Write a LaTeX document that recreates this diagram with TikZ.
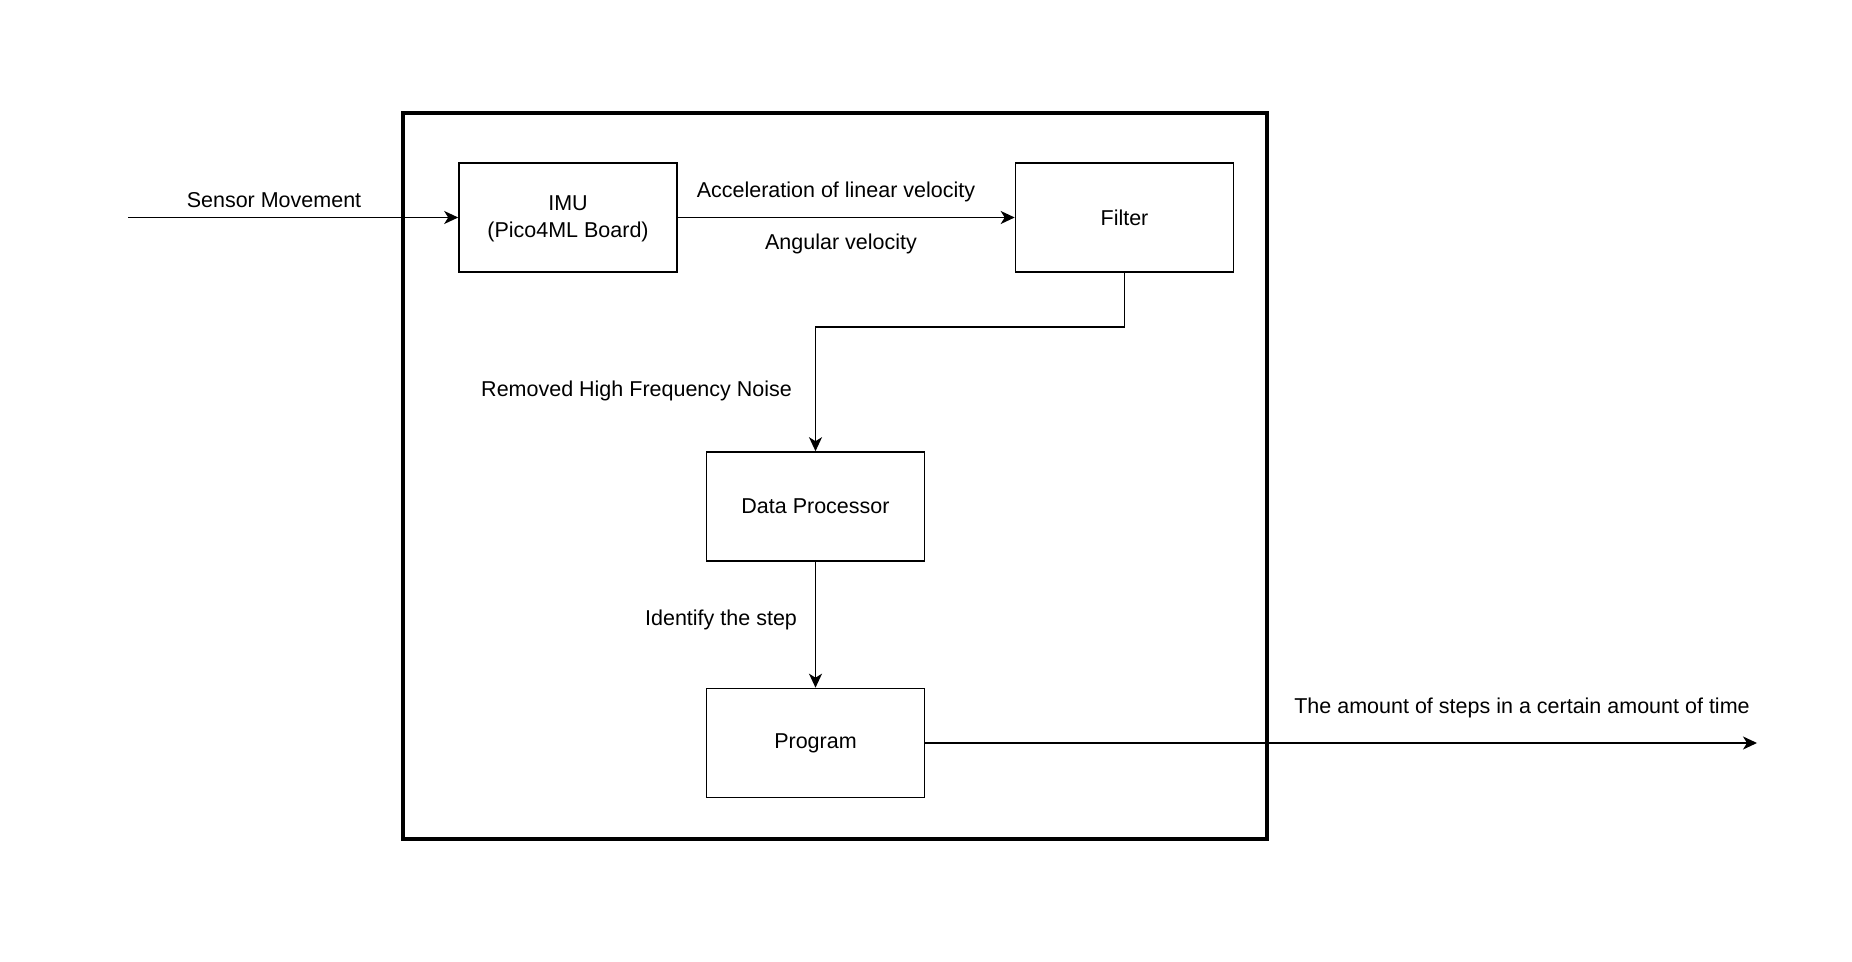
\documentclass[tikz,border=0pt]{standalone}
\usepackage{fontspec}
\setmainfont{Liberation Sans}
\usetikzlibrary{arrows.meta,positioning}
\begin{document}
\begin{tikzpicture}[x=0.5pt,y=-0.5pt,
  font=\fontsize{10.75}{13.6}\selectfont,
  block/.style={draw,line width=0.8pt,minimum width=109pt,minimum height=54.5pt,inner sep=0pt,align=center},
  flow/.style={line width=0.8pt,-{Stealth[length=7pt,width=6.5pt,inset=2pt]}}]
  \useasboundingbox (0,0) rectangle (1852,962);
  % system boundary
  \node[draw,line width=1.7pt,minimum width=432pt,minimum height=363pt,inner sep=0pt] (system) at (835,476) {};
  % blocks
  \node[block] (imu) at (568,217.5) {\rule{0pt}{9pt}IMU\\(Pico4ML Board)};
  \node[block] (filter) at (1124.5,217.5) {Filter};
  \node[block] (proc) at (815.5,506.5) {\raisebox{-1pt}{Data Processor}};
  \node[block] (prog) at (815.5,743) {Program};
  \coordinate (input) at (128,217.5);
  \coordinate (output) at (1757,743);
  % connectors
  \draw[flow] (input) -- (imu);
  \draw[flow] (imu) -- (filter);
  \draw[flow] (filter.south) -- ++(0,54) -| (proc.north);
  \draw[flow] (proc) -- (prog);
  \draw[flow] (prog) -- (output);
  % labels
  \node (lblsensor) at (274,200) {Sensor Movement};
  \node (lblaccel) at (836,192) {Acceleration of linear velocity};
  \node (lblangular) at (841,244) {Angular velocity};
  \node[anchor=east] (lblnoise) at (799,391) {Removed High Frequency Noise};
  \node[anchor=east] (lblstep) at (804,620) {Identify the step};
  \node (lblcount) at (1522,708) {The amount of steps in a certain amount of time};
\end{tikzpicture}
\end{document}
